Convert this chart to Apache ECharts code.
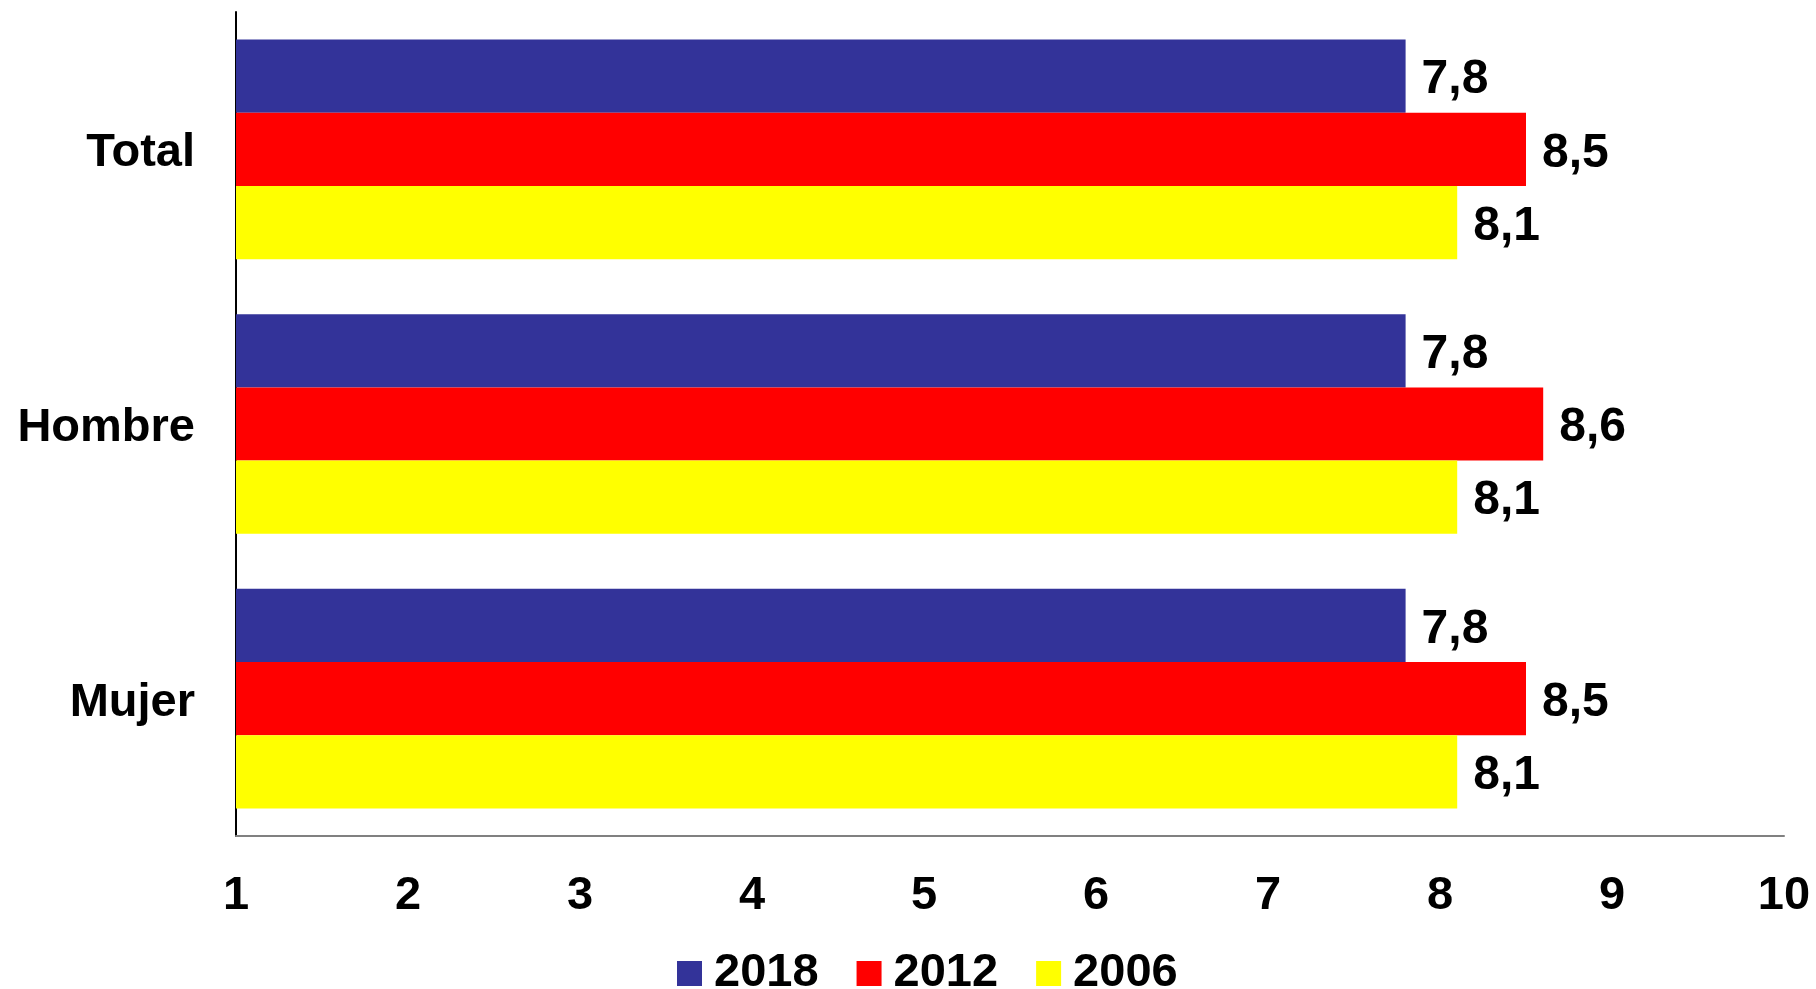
<!DOCTYPE html>
<html><head><meta charset="utf-8">
<script src="https://cdn.jsdelivr.net/npm/echarts@6/dist/echarts.min.js"></script>
<style>html,body{margin:0;padding:0;background:#fff}#c{width:1816px;height:989px}</style>
</head><body><div id="c"></div>
<script>
const categories = ['Total', 'Hombre', 'Mujer'];
const seriesNames = ['2018', '2012', '2006'];
const values2018 = [7.8, 7.8, 7.8];
const values2012 = [8.5, 8.6, 8.5];
const values2006 = [8.1, 8.1, 8.1];
const colors = ['#333399', '#FF0000', '#FFFF00'];
const FONT = '"Liberation Sans", Arial, sans-serif';

const chart = echarts.init(document.getElementById('c'));
const allValues = [values2018, values2012, values2006];
chart.setOption({
  animation: false,
  backgroundColor: '#ffffff',
  grid: { left: 236, right: 32, top: 12, bottom: 153, containLabel: false },
  legend: {
    left: 672, top: 945,
    itemWidth: 25, itemHeight: 25, itemGap: 38,
    icon: 'rect',
    data: seriesNames,
    textStyle: { fontFamily: FONT, fontWeight: 'bold', fontSize: 47, color: '#000', padding: [0,0,0,7] }
  },
  xAxis: {
    type: 'value', min: 1, max: 10, interval: 1,
    axisLine: { show: true, lineStyle: { color: '#808080', width: 2 } },
    axisTick: { show: false },
    splitLine: { show: false },
    axisLabel: { fontFamily: FONT, fontWeight: 'bold', fontSize: 47, color: '#000', margin: 37 }
  },
  yAxis: {
    type: 'category', data: categories, inverse: true,
    axisLine: { show: true, lineStyle: { color: '#000', width: 2 } },
    axisTick: { show: false },
    axisLabel: {
      fontFamily: FONT, fontWeight: 'bold', fontSize: 47, color: '#000', margin: 41,
      formatter: v => '{a|' + v + '}',
      rich: { a: { fontFamily: FONT, fontWeight: 'bold', fontSize: 47, color: '#000', padding: [8, 0, 0, 0] } }
    }
  },
  series: seriesNames.map((n, i) => ({
    name: n, type: 'bar', data: allValues[i],
    barCategoryGap: '20%', barGap: '0%',
    itemStyle: { color: colors[i] },
    label: {
      show: true, position: 'right', distance: 16, offset: [0, 4],
      fontFamily: FONT, fontWeight: 'bold', fontSize: 48, color: '#000',
      formatter: p => String(p.value).replace('.', ',')
    }
  }))
});
</script></body></html>
